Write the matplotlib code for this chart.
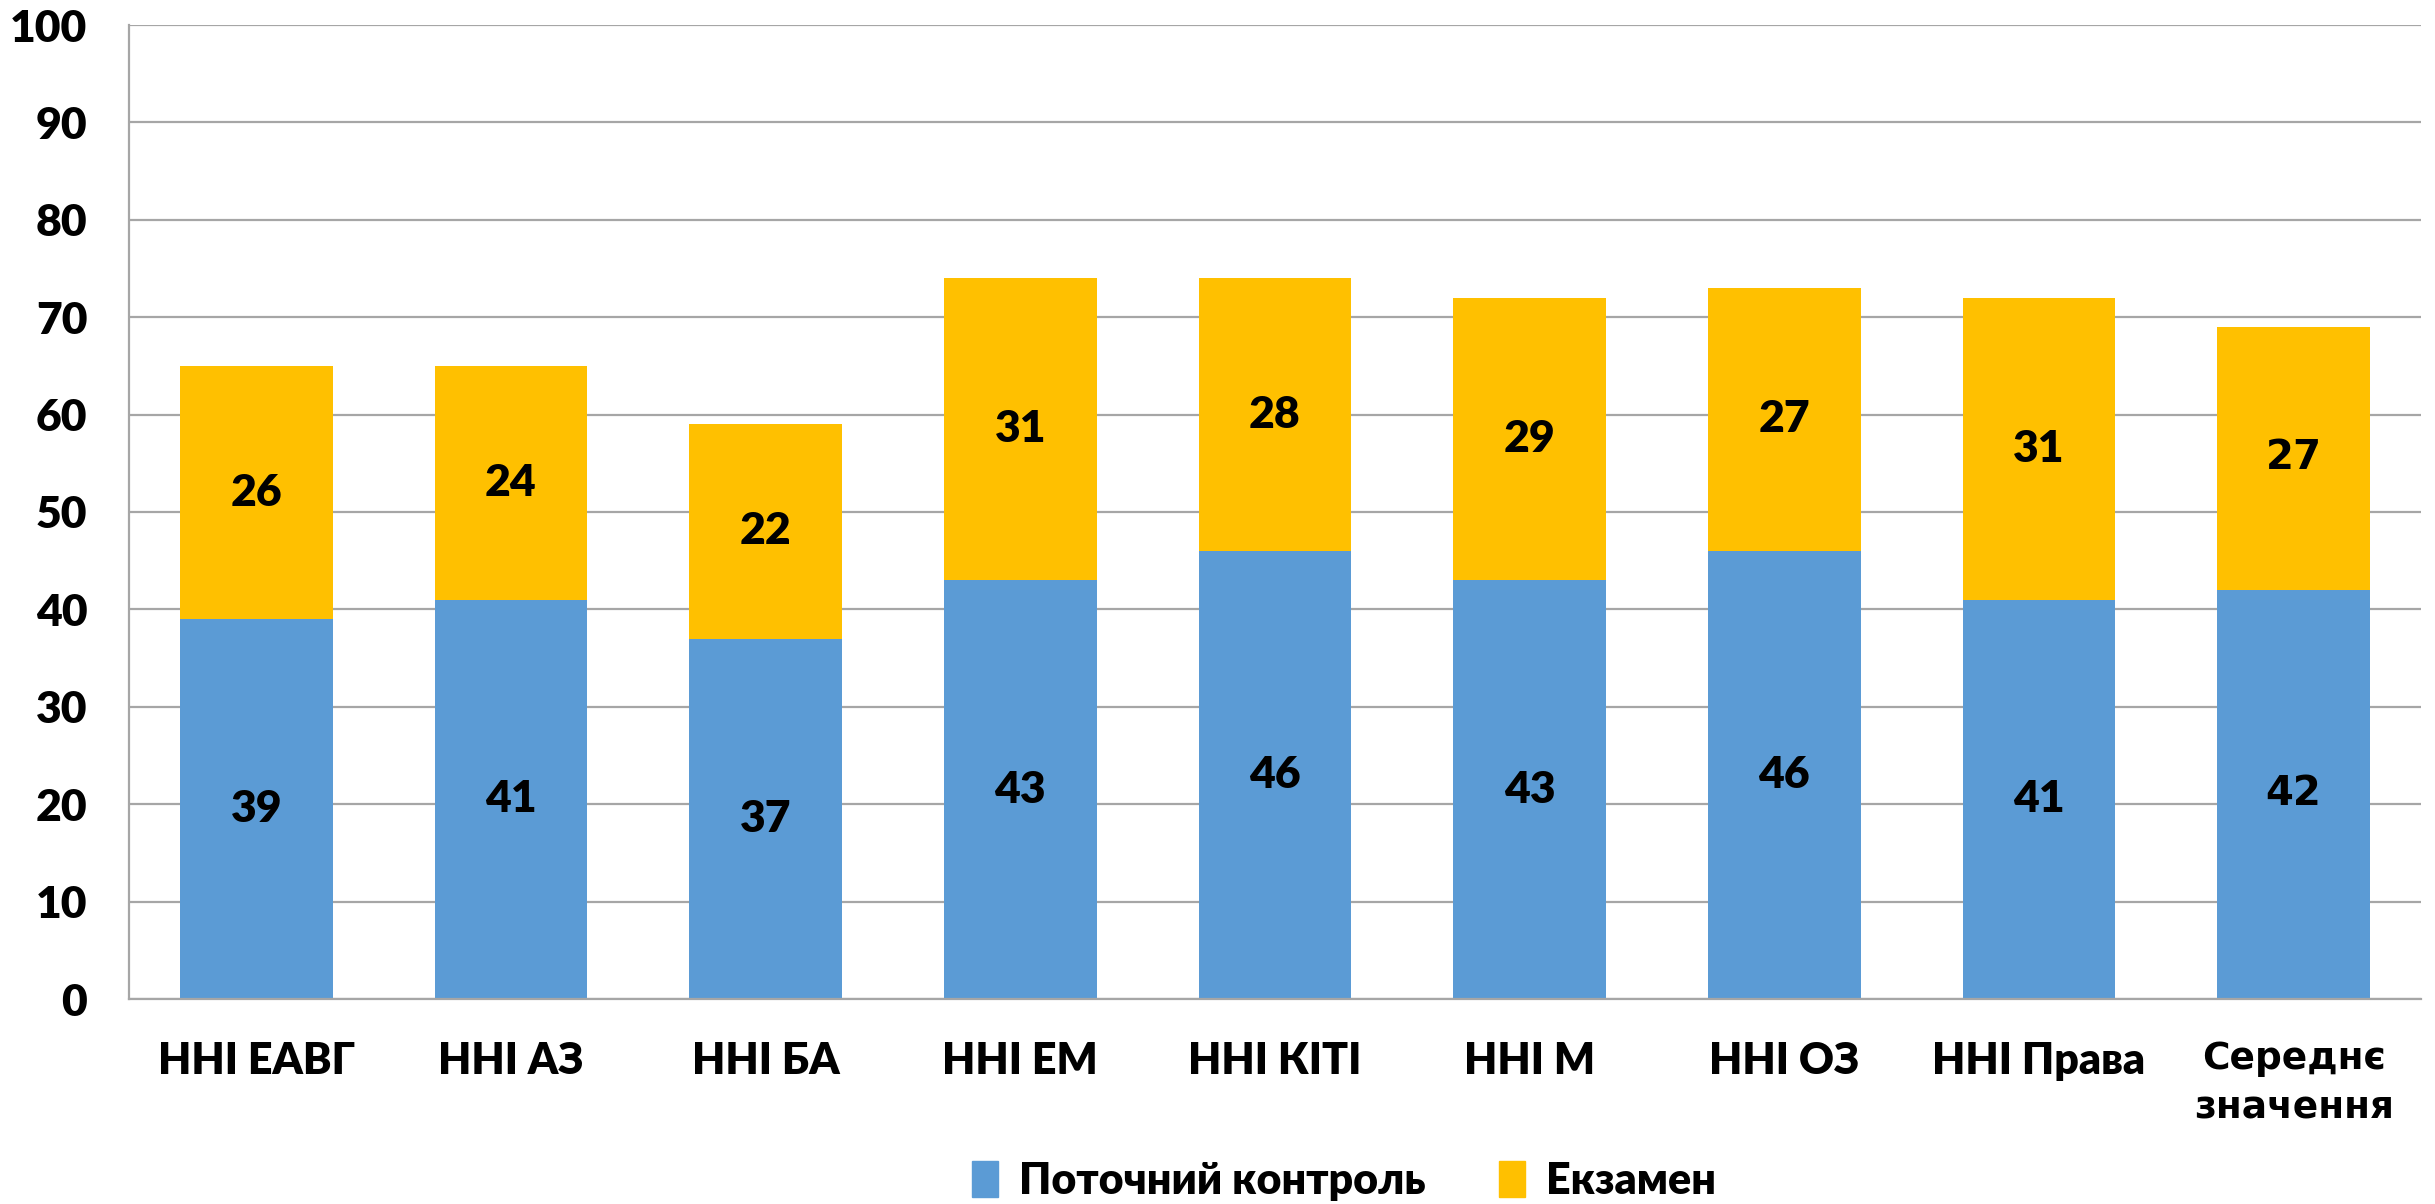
import numpy as np
from matplotlib import pyplot as plt
from matplotlib.patches import Patch

categories = ['ННІ ЕАВГ', 'ННІ АЗ', 'ННІ БА', 'ННІ ЕМ', 'ННІ КІТІ',
              'ННІ М', 'ННІ ОЗ', 'ННІ Права', 'Середнє\nзначення']
current = [39, 41, 37, 43, 46, 43, 46, 41, 42]
exam = [26, 24, 22, 31, 28, 29, 27, 31, 27]
series_names = ['Поточний контроль', 'Екзамен']

BLUE = '#5B9BD5'
GOLD = '#FFC000'
GRID = '#A6A6A6'
FONT = 'Lato'
WIDE = 'DejaVu Sans'
HEAVY = 'heavy'


def main():
  fig = plt.figure(figsize=(24.35, 12.04), dpi=100)
  ax = fig.add_axes([129 / 2435, 205 / 1204, 2292 / 2435, 974 / 1204])

  x = np.arange(len(categories))
  ax.bar(x, current, width=0.6, color=BLUE, zorder=2)
  ax.bar(x, exam, width=0.6, bottom=current, color=GOLD, zorder=2)

  # value labels in the middle of each segment
  last = len(categories) - 1
  for i in x:
    if i == last:
      kw = dict(family=WIDE, fontsize=29, fontweight='bold')
    else:
      kw = dict(family=FONT, fontsize=32, fontweight=HEAVY)
    ax.text(i, current[i] / 2, str(current[i]), ha='center', va='center',
            zorder=3, **kw)
    ax.text(i, current[i] + exam[i] / 2, str(exam[i]), ha='center',
            va='center', zorder=3, **kw)

  ax.set_xlim(-0.5, len(categories) - 0.5)
  ax.set_ylim(0, 100)
  ax.set_yticks(np.arange(0, 101, 10))
  ax.yaxis.grid(True, color=GRID, linewidth=1.6, zorder=0)
  ax.set_axisbelow(True)

  for side in ['top', 'right']:
    ax.spines[side].set_visible(False)
  for side in ['left', 'bottom']:
    ax.spines[side].set_color(GRID)
    ax.spines[side].set_linewidth(1.6)

  ax.tick_params(axis='y', length=0, pad=30, labelsize=32)
  ax.tick_params(axis='x', length=0, pad=30, labelsize=31)
  for lab in ax.get_yticklabels():
    lab.set_fontweight(HEAVY)
    lab.set_family(FONT)

  ax.set_xticks(x)
  ax.set_xticklabels(categories)
  for i, lab in enumerate(ax.get_xticklabels()):
    if i == last:
      lab.set_family(WIDE)
      lab.set_fontweight('bold')
      lab.set_fontsize(27)
      lab.set_linespacing(1.5)
    else:
      lab.set_family(FONT)
      lab.set_fontweight(HEAVY)

  handles = [Patch(color=BLUE), Patch(color=GOLD)]
  fig.legend(handles, series_names, loc='center', ncol=2,
             bbox_to_anchor=(0.552, 0.019), frameon=False,
             prop={'family': FONT, 'weight': HEAVY, 'size': 31},
             handlelength=0.6, handleheight=0.9, handletextpad=0.5,
             columnspacing=1.7)

  fig.savefig('out.png', dpi=100)


if __name__ == "__main__":
  main()
